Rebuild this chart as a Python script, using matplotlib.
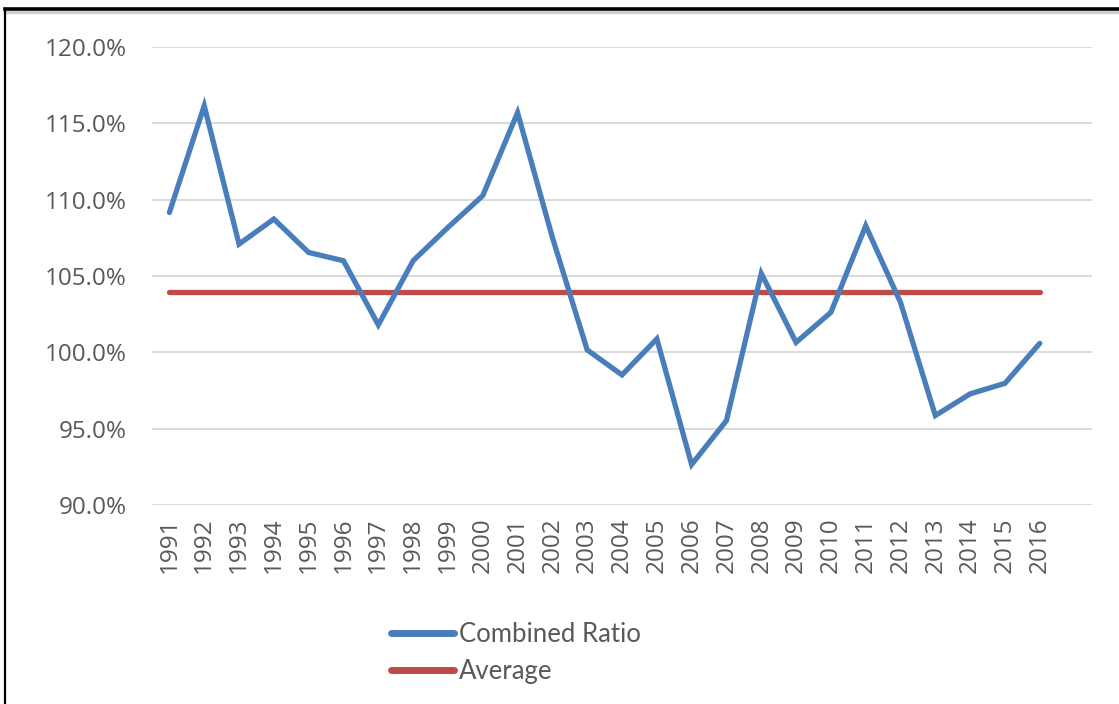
import matplotlib.pyplot as plt
from matplotlib.lines import Line2D
from matplotlib.ticker import PercentFormatter

# data
years = [str(y) for y in range(1991, 2017)]
combined_ratio = [109.16, 116.15, 107.09, 108.73, 106.54, 106.0, 101.8, 106.0,
                  108.18, 110.26, 115.7, 107.53, 100.16, 98.52, 100.88, 92.65,
                  95.53, 105.17, 100.65, 102.62, 108.29, 103.27, 95.86, 97.28,
                  97.97, 100.59]
average_value = 103.95
average = [average_value] * len(years)

blue = '#4a7ebb'
red = '#be4b48'
text_gray = '#595959'

fig = plt.figure(figsize=(11.19, 7.04), dpi=100)
ax = fig.add_axes([152 / 1119, 1 - 505 / 704, 940 / 1119, 458 / 704])

x = list(range(len(years)))
ax.plot(x, combined_ratio, color=blue, lw=3.8, solid_joinstyle='miter',
        solid_capstyle='round', label='Combined Ratio', zorder=3)
ax.plot(x, average, color=red, lw=3.8, solid_capstyle='round',
        label='Average', zorder=2)

ax.set_xlim(-0.5, len(years) + 0.5)
ax.set_ylim(90, 120)
ax.set_yticks([90, 95, 100, 105, 110, 115, 120])
ax.yaxis.set_major_formatter(PercentFormatter(decimals=1))
ax.set_xticks(x)
ax.set_xticklabels(years, rotation=90)

ax.grid(axis='y', color='#d9d9d9', lw=1.4)
ax.set_axisbelow(True)
for s in ax.spines.values():
    s.set_visible(False)
ax.tick_params(length=0, colors=text_gray, labelsize=17.5, pad=9)
ax.tick_params(axis='y', pad=18)
for lbl in ax.get_xticklabels() + ax.get_yticklabels():
    lbl.set_fontfamily('Open Sans')

# legend
handles = [Line2D([], [], color=blue, lw=5, solid_capstyle='round'),
           Line2D([], [], color=red, lw=5, solid_capstyle='round')]
fig.legend(handles, ['Combined Ratio', 'Average'], loc='center left',
           bbox_to_anchor=(391 / 1119, 1 - 653 / 704), frameon=False,
           prop={'family': 'Lato', 'size': 18.5}, labelcolor=text_gray,
           handlelength=2.45, handletextpad=0.2, labelspacing=0.5,
           borderaxespad=0, borderpad=0)

# chart border (cropped screenshot frame)
fig.add_artist(Line2D([5 / 1119, 1], [1 - 12 / 704, 1 - 12 / 704],
                      transform=fig.transFigure, color='#d0d0d0', lw=2.5))
fig.add_artist(Line2D([5 / 1119, 1], [1 - 9 / 704, 1 - 9 / 704],
                      transform=fig.transFigure, color='black', lw=2.6))
fig.add_artist(Line2D([5 / 1119, 5 / 1119], [0, 1 - 9 / 704],
                      transform=fig.transFigure, color='black', lw=1.6))

fig.savefig('out.png', dpi=100)
